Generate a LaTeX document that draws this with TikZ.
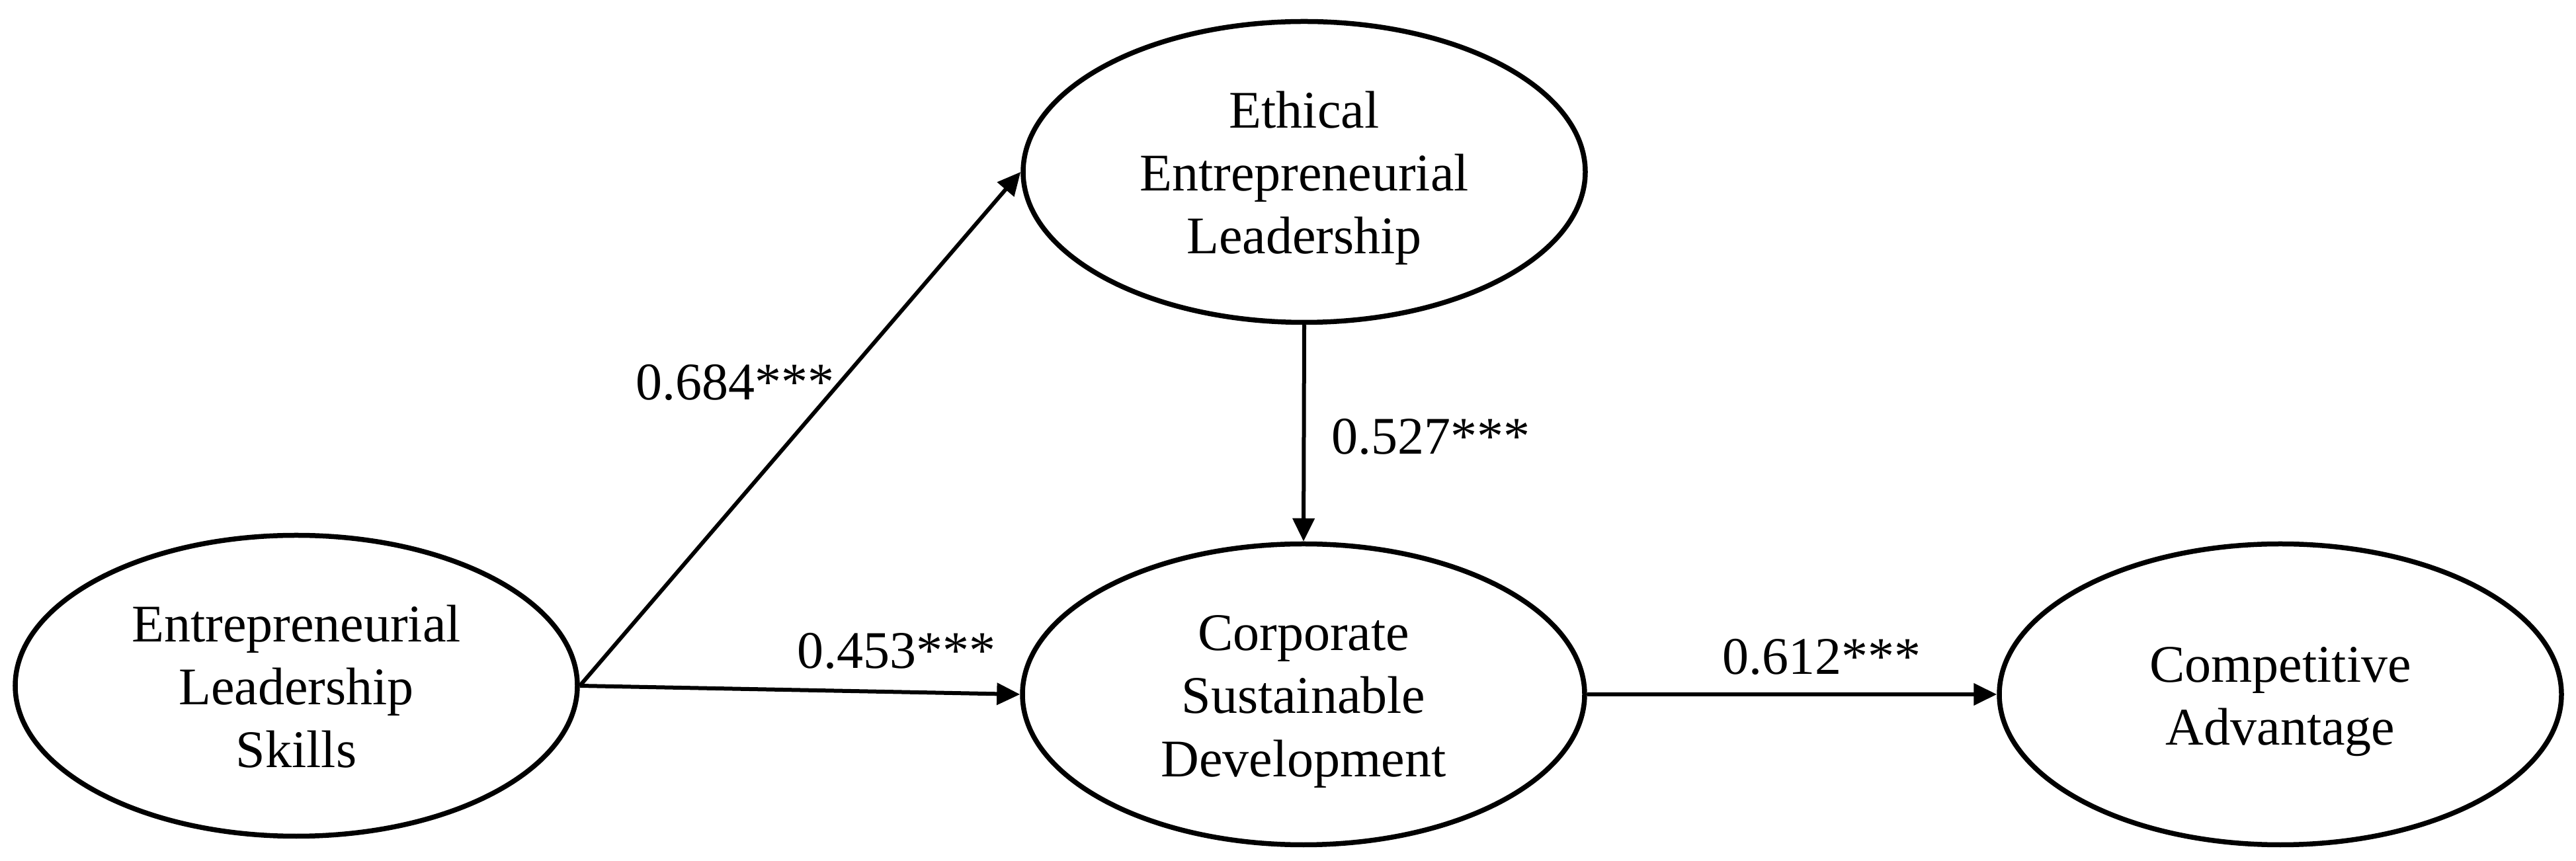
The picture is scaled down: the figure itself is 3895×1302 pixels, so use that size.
\documentclass[tikz,border=0pt]{standalone}
\usepackage{fontspec}
\setmainfont{Liberation Serif}
\usetikzlibrary{shapes.geometric,arrows.meta}
\begin{document}
\begin{tikzpicture}[x=0.2pt,y=-0.2pt,
  latent/.style={draw=black, line width=1.5pt, ellipse, minimum width=170pt, minimum height=91pt, inner sep=0pt},
  vtext/.style={align=center, font=\fontsize{16}{19}\selectfont, inner sep=0pt},
  coef/.style={anchor=base west, font=\fontsize{16}{19}\selectfont, inner sep=0pt},
  regpath/.style={line width=1.2pt, -{Triangle[length=7pt,width=6.5pt]}}
]
\useasboundingbox (0,0) rectangle (3895,1302);
% latent variables
\node[latent] (els) at (448,1037) {};
\node[latent] (eel) at (1972,260) {};
\node[latent] (csd) at (1971,1050) {};
\node[latent] (ca)  at (3448,1050) {};
% texts
\node[vtext] (elst) at ([yshift=-2pt]els.center) {\strut Entrepreneurial\\Leadership\\Skills\strut};
\node[vtext] (eelt) at ([yshift=-2pt]eel.center) {\strut Ethical\\Entrepreneurial\\Leadership\strut};
\node[vtext] (csdt) at ([yshift=-2pt]csd.center) {\strut Corporate\\Sustainable\\Development\strut};
\node[vtext] (cat)  at ([yshift=-2pt]ca.center)  {\strut Competitive\\Advantage\strut};
% paths
\draw[regpath] (els.east) -- (eel.west);
\draw[regpath] (els.east) -- (csd.west);
\draw[regpath] (eel.south) -- (csd.north);
\draw[regpath] (csd.east) -- (ca.west);
% coefficients
\node[coef] (c1) at (960,605)  {0.684***};
\node[coef] (c2) at (2012,687) {0.527***};
\node[coef] (c3) at (1204,1011) {0.453***};
\node[coef] (c4) at (2603,1020) {0.612***};
\end{tikzpicture}
\end{document}
